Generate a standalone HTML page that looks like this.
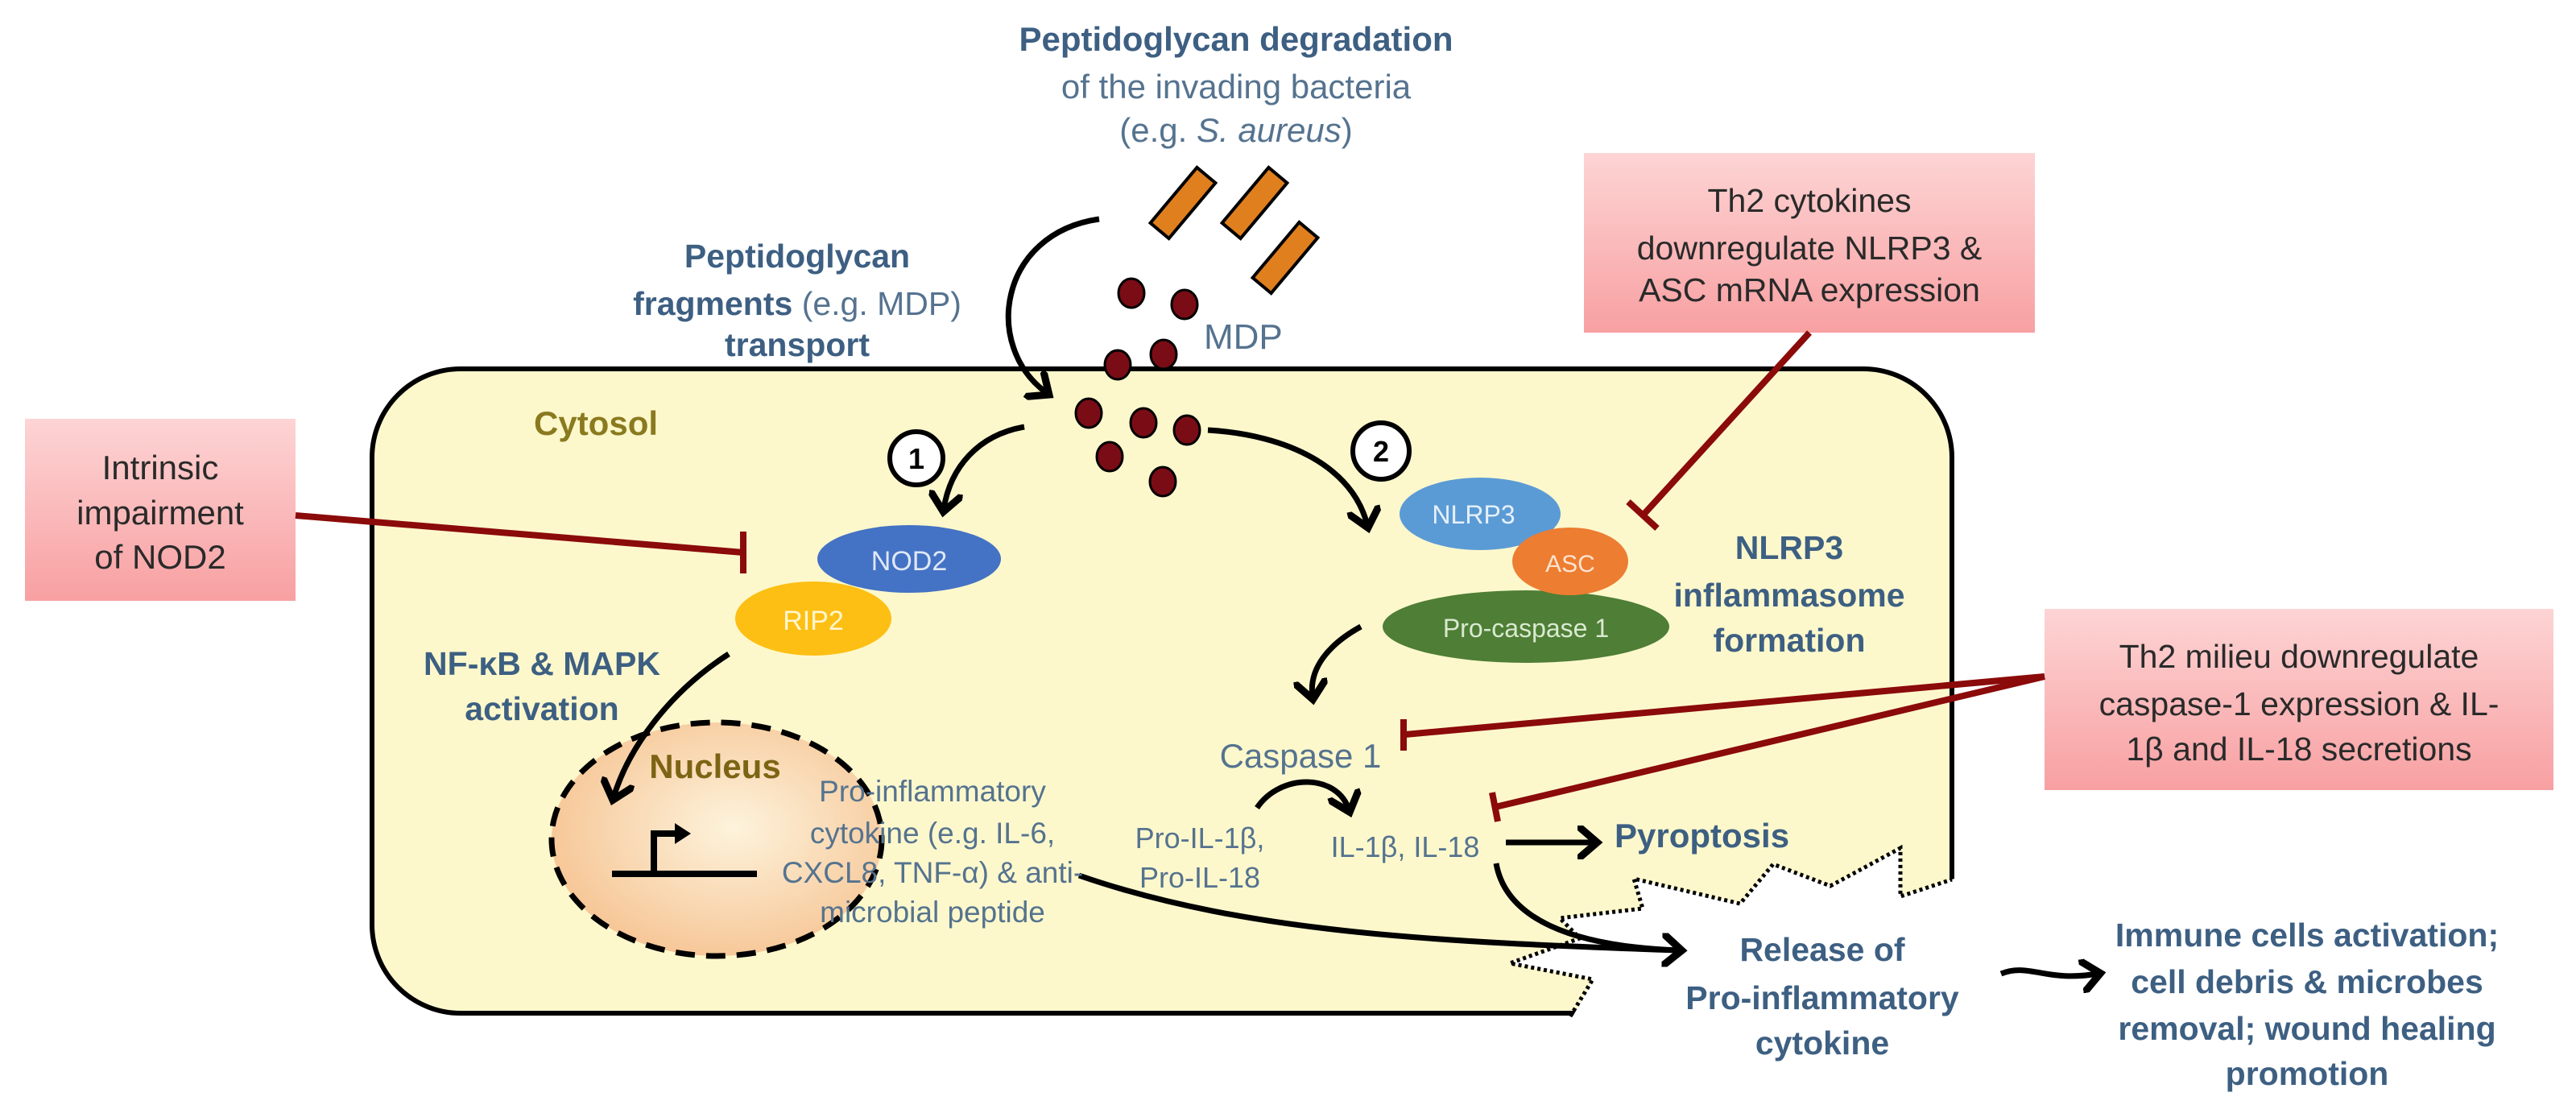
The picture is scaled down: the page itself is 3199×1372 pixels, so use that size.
<!DOCTYPE html>
<html><head><meta charset="utf-8"><style>
html,body{margin:0;padding:0;background:#fff;}
svg{display:block;}
text{font-family:"Liberation Sans Narrow","Liberation Sans",sans-serif;}
.b{fill:#3d5f82;font-weight:bold;}
.n{fill:#55738f;}
.k{fill:#2a2a2a;}
</style></head><body>
<svg width="3199" height="1372" viewBox="0 0 3199 1372" xmlns="http://www.w3.org/2000/svg">
<defs>
<linearGradient id="rg" x1="0" y1="0" x2="0" y2="1"><stop offset="0" stop-color="#fdd4d4"/><stop offset="1" stop-color="#f8a0a2"/></linearGradient>
<radialGradient id="ng" cx="0.55" cy="0.45" r="0.6"><stop offset="0" stop-color="#fdf3dc"/><stop offset="1" stop-color="#f6c493"/></radialGradient>
<marker id="ah" markerWidth="6" markerHeight="6" refX="3" refY="3" orient="auto" markerUnits="strokeWidth"><path d="M0,0 L3.5,3 L0,6" fill="none" stroke="#000" stroke-width="1.3"/></marker>
</defs>

<!-- cell -->
<rect x="462" y="458" width="1962" height="800" rx="110" fill="#fdf8cc" stroke="#000" stroke-width="6"/>
<!-- broken membrane -->
<polygon points="1950,1268 1978,1216 1875,1196 1962,1165 1937,1140 2040,1128 2029,1091 2161,1122 2202,1073 2273,1100 2360,1053 2360,1113 2430,1090 2440,1275" fill="#fff"/>
<polyline points="1950,1262 1978,1216 1875,1196 1962,1165 1937,1140 2040,1128 2029,1091 2161,1122 2202,1073 2273,1100 2360,1053 2360,1113 2424,1092" fill="none" stroke="#000" stroke-width="5" stroke-dasharray="4,4"/>

<!-- top text -->
<text x="1535" y="63" text-anchor="middle" font-size="42" class="b">Peptidoglycan degradation</text>
<text x="1535" y="122" text-anchor="middle" font-size="42" class="n">of the invading bacteria</text>
<text x="1535" y="176" text-anchor="middle" font-size="42" class="n">(e.g. <tspan font-style="italic">S. aureus</tspan>)</text>

<!-- bacteria bars -->
<g fill="#e07f1e" stroke="#000" stroke-width="4">
<rect x="-15" y="-45" width="30" height="90" transform="translate(1469,252) rotate(40)"/>
<rect x="-15" y="-45" width="30" height="90" transform="translate(1558,252) rotate(40)"/>
<rect x="-15" y="-45" width="30" height="90" transform="translate(1596,320) rotate(40)"/>
</g>

<!-- MDP dots -->
<g fill="#7a0c16" stroke="#000" stroke-width="3">
<ellipse cx="1405" cy="364" rx="16" ry="18"/><ellipse cx="1471" cy="378" rx="16" ry="18"/>
<ellipse cx="1445" cy="440" rx="16" ry="18"/><ellipse cx="1388" cy="453" rx="16" ry="18"/>
<ellipse cx="1352" cy="513" rx="16" ry="18"/><ellipse cx="1420" cy="525" rx="16" ry="18"/>
<ellipse cx="1474" cy="534" rx="16" ry="18"/><ellipse cx="1378" cy="567" rx="16" ry="18"/>
<ellipse cx="1444" cy="598" rx="16" ry="18"/>
</g>
<text x="1495" y="433" font-size="44" class="n">MDP</text>

<text x="990" y="332" text-anchor="middle" font-size="41" class="b">Peptidoglycan</text>
<text x="990" y="391" text-anchor="middle" font-size="41" class="b">fragments <tspan font-weight="normal" fill="#55738f">(e.g. MDP)</tspan></text>
<text x="990" y="442" text-anchor="middle" font-size="41" class="b">transport</text>

<text x="663" y="540" font-size="42" fill="#8a7a1f" font-weight="bold">Cytosol</text>

<!-- nucleus -->
<ellipse cx="890" cy="1042" rx="205" ry="145" fill="url(#ng)" stroke="#000" stroke-width="7" stroke-dasharray="24,14"/>
<text x="888" y="966" text-anchor="middle" font-size="42" fill="#7d6414" font-weight="bold">Nucleus</text>
<g stroke="#000" stroke-width="8" fill="none">
<path d="M760,1085 L940,1085"/><path d="M812,1085 L812,1035 L840,1035"/>
</g>
<path d="M838,1022 L858,1035 L838,1048 Z" fill="#000"/>

<!-- arrows (black) -->
<g fill="none" stroke="#000" stroke-width="7" marker-end="url(#ah)">
<path d="M1365,272 C1240,290 1220,430 1300,488"/>
<path d="M1272,530 C1215,540 1180,580 1172,632"/>
<path d="M1500,534 C1600,540 1680,580 1698,652"/>
<path d="M905,812 C830,860 780,930 762,990"/>
<path d="M1690,778 C1650,800 1625,830 1630,865"/>
<path d="M1561,1003 C1590,960 1660,960 1675,1005"/>
<path d="M1870,1046 L1980,1046"/>
<path d="M1340,1087 C1550,1160 1800,1170 2085,1180"/>
<path d="M1858,1072 C1870,1140 1950,1175 2085,1180"/>
<path d="M2485,1209 C2520,1195 2540,1220 2605,1209"/>
</g>

<circle cx="1138" cy="569" r="33" fill="#fff" stroke="#000" stroke-width="6"/>
<text x="1138" y="582" text-anchor="middle" font-size="36" font-weight="bold" fill="#000">1</text>
<circle cx="1715" cy="560" r="35" fill="#fff" stroke="#000" stroke-width="6"/>
<text x="1715" y="573" text-anchor="middle" font-size="36" font-weight="bold" fill="#000">2</text>

<!-- NOD2/RIP2 -->
<ellipse cx="1129" cy="694" rx="114" ry="42" fill="#4472c4"/>
<text x="1129" y="708" text-anchor="middle" font-size="34" fill="#dfe8f7">NOD2</text>
<ellipse cx="1010" cy="768" rx="97" ry="46" fill="#fdbf14"/>
<text x="1010" y="782" text-anchor="middle" font-size="34" fill="#fff6d0">RIP2</text>

<text x="673" y="838" text-anchor="middle" font-size="41" class="b">NF-κB &amp; MAPK</text>
<text x="673" y="894" text-anchor="middle" font-size="41" class="b">activation</text>

<g font-size="37" class="n" text-anchor="middle">
<text x="1158" y="995">Pro-inflammatory</text>
<text x="1158" y="1047">cytokine (e.g. IL-6,</text>
<text x="1158" y="1096">CXCL8, TNF-α) &amp; anti-</text>
<text x="1158" y="1145">microbial peptide</text>
</g>

<!-- inflammasome -->
<ellipse cx="1895" cy="778" rx="178" ry="45" fill="#4f7e36"/>
<text x="1895" y="791" text-anchor="middle" font-size="32" fill="#d9ead0">Pro-caspase 1</text>
<ellipse cx="1838" cy="638" rx="100" ry="45" fill="#5b9bd5"/>
<text x="1830" y="650" text-anchor="middle" font-size="32" fill="#e6f0fa">NLRP3</text>
<ellipse cx="1950" cy="697" rx="72" ry="42" fill="#ed7d31"/>
<text x="1950" y="710" text-anchor="middle" font-size="30" fill="#fde3d0">ASC</text>

<text x="2222" y="694" text-anchor="middle" font-size="41" class="b">NLRP3</text>
<text x="2222" y="753" text-anchor="middle" font-size="41" class="b">inflammasome</text>
<text x="2222" y="809" text-anchor="middle" font-size="41" class="b">formation</text>

<text x="1615" y="953" text-anchor="middle" font-size="42" class="n">Caspase 1</text>
<text x="1490" y="1053" text-anchor="middle" font-size="36" class="n">Pro-IL-1β,</text>
<text x="1490" y="1102" text-anchor="middle" font-size="36" class="n">Pro-IL-18</text>
<text x="1745" y="1064" text-anchor="middle" font-size="36" class="n">IL-1β, IL-18</text>
<text x="2005" y="1052" font-size="42" class="b">Pyroptosis</text>

<text x="2263" y="1193" text-anchor="middle" font-size="41" class="b">Release of</text>
<text x="2263" y="1253" text-anchor="middle" font-size="41" class="b">Pro-inflammatory</text>
<text x="2263" y="1309" text-anchor="middle" font-size="41" class="b">cytokine</text>

<g font-size="41" class="b" text-anchor="middle">
<text x="2865" y="1175">Immune cells activation;</text>
<text x="2865" y="1233">cell debris &amp; microbes</text>
<text x="2865" y="1291">removal; wound healing</text>
<text x="2865" y="1347">promotion</text>
</g>

<!-- red boxes -->
<rect x="31" y="520" width="336" height="226" fill="url(#rg)"/>
<g font-size="42" class="k" text-anchor="middle">
<text x="199" y="595">Intrinsic</text><text x="199" y="651">impairment</text><text x="199" y="706">of NOD2</text>
</g>
<rect x="1967" y="190" width="560" height="223" fill="url(#rg)"/>
<g font-size="41" class="k" text-anchor="middle">
<text x="2247" y="263">Th2 cytokines</text><text x="2247" y="322">downregulate NLRP3 &amp;</text><text x="2247" y="374">ASC mRNA expression</text>
</g>
<rect x="2539" y="756" width="632" height="225" fill="url(#rg)"/>
<g font-size="41" class="k" text-anchor="middle">
<text x="2855" y="829">Th2 milieu downregulate</text><text x="2855" y="888">caspase-1 expression &amp; IL-</text><text x="2855" y="944">1β and IL-18 secretions</text>
</g>

<!-- inhibition lines -->
<g stroke="#8b0a0a" stroke-width="8" fill="none">
<path d="M367,640 L923,686"/><path d="M923,660 L923,712"/>
<path d="M2247,413 L2040,640"/><path d="M2022,623 L2058,656"/>
<path d="M2539,840 L1745,912"/><path d="M1743,893 L1743,932"/>
<path d="M2539,840 L1857,1002"/><path d="M1853,984 L1860,1020"/>
</g>
</svg>
</body></html>
